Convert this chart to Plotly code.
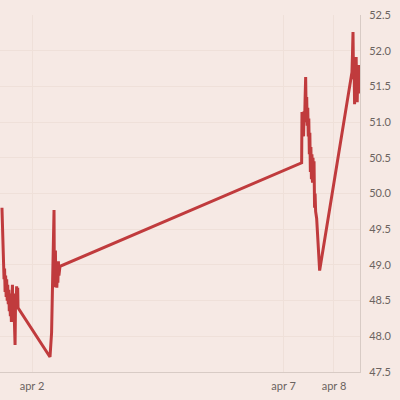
import plotly.graph_objects as go

# Apr 1 session
t1 = ["09:40","09:55","10:10","10:25","10:40","10:55","11:10","11:25","11:40","11:55",
      "12:10","12:25","12:40","12:55","13:10","13:25","13:40","13:55","14:10","14:25",
      "14:40","14:55","15:10","15:25","15:40","15:55","16:10","16:25","16:40","16:55",
      "17:10","17:20"]
v1 = [49.80,49.45,49.30,49.00,48.80,48.95,48.62,48.85,48.55,48.80,
      48.50,48.72,48.45,48.65,48.35,48.60,48.28,48.55,48.20,48.50,
      48.72,48.30,48.60,48.40,47.90,47.88,48.55,48.40,48.70,48.45,
      48.68,48.40]
# Apr 2 session
t2 = ["08:35","09:20","10:30","10:40","10:50","11:00","11:10","11:20","11:35","11:50",
      "12:05","12:20","12:35","12:50","13:05","13:20"]
v2 = [47.71,48.05,49.77,48.69,49.40,48.75,49.20,48.70,49.00,48.68,
      48.90,48.75,49.05,48.85,48.95,48.98]
# Apr 7 session
t3 = ["08:35","08:45","09:00","09:15","09:30","09:45","10:00","10:15","10:30","10:45",
      "11:00","11:15","11:30","11:45","12:00","12:15","12:30","12:45","13:00","13:15",
      "13:30","13:45","14:00","14:15","14:30","14:45","15:00","15:15","15:45","17:10"]
v3 = [50.43,51.14,50.95,51.10,50.80,51.15,51.00,51.35,51.63,51.10,
      51.35,50.95,51.20,50.80,51.05,50.55,50.85,50.30,50.65,50.20,
      50.55,50.15,50.50,50.20,50.45,49.80,50.00,49.75,49.65,48.92]
# Apr 8 session
t4 = ["08:35","08:50","09:05","09:20","09:35","09:50","10:05","10:20","10:35","10:50",
      "11:05","11:20","11:35","11:50","12:05","12:20"]
v4 = [51.70,51.95,52.26,51.60,51.85,51.25,51.75,51.50,51.91,51.40,
      51.28,51.70,51.45,51.80,51.40,51.66]

days = ["2015-04-01", "2015-04-02", "2015-04-07", "2015-04-08"]
sessions = [(t1, v1), (t2, v2), (t3, v3), (t4, v4)]

x_vals, y_vals = [], []
for d, (ts, vs) in zip(days, sessions):
    x_vals += [f"{d} {t}" for t in ts]
    y_vals += vs

tick_vals = ["2015-04-02", "2015-04-07", "2015-04-08"]
tick_text = ["apr 2", "apr 7", "apr 8"]
y_ticks = [47.5, 48.0, 48.5, 49.0, 49.5, 50.0, 50.5, 51.0, 51.5, 52.0, 52.5]

bg = "#f6e9e4"
grid = "#efe0d9"
axis_line = "#d8cbc5"
red = "#c03b3d"

fig = go.Figure(go.Scatter(x=x_vals, y=y_vals, mode="lines",
                           line=dict(color=red, width=3), hoverinfo="skip"))
fig.update_layout(
    width=400, height=400,
    margin=dict(l=0, r=40, t=15, b=28),
    paper_bgcolor=bg, plot_bgcolor=bg,
    showlegend=False,
    font=dict(family="Lato", size=11, color="#6b6360"),
)
fig.update_xaxes(
    type="date",
    range=["2015-04-01 08:44", "2015-04-08 12:25"],
    tickvals=tick_vals, ticktext=tick_text,
    showgrid=True, gridcolor=grid, gridwidth=1,
    showline=True, linecolor=axis_line, linewidth=1,
    ticks="", zeroline=False, ticklabelstandoff=4,
)
fig.update_yaxes(
    side="right", range=[47.5, 52.5],
    tickvals=y_ticks, ticktext=[f"{v:.1f}" for v in y_ticks],
    showgrid=True, gridcolor=grid, gridwidth=1,
    showline=True, linecolor=axis_line, linewidth=1,
    ticks="", zeroline=False, ticklabelstandoff=6,
)
fig.write_html(
    "out.html",
    config={"displayModeBar": False},
    post_script="document.body.style.margin='0';document.body.style.background='" + bg + "';",
)
